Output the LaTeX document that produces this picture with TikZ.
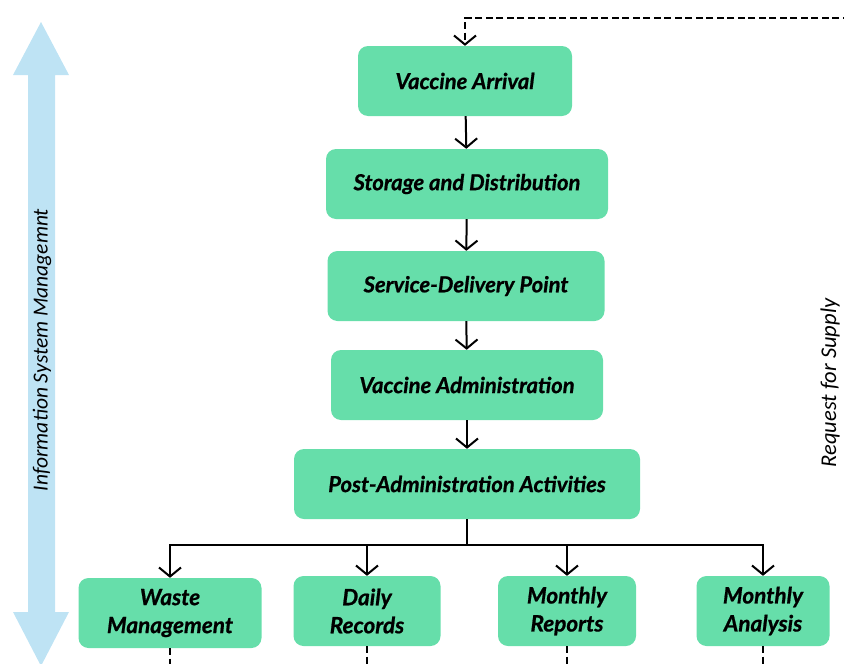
\documentclass[tikz,border=0pt]{standalone}
\usepackage{fontspec}
\setmainfont{Lato}[BoldItalicFeatures={FakeBold=0.8}]
\newfontfamily\ismfont{Carlito}
\usetikzlibrary{positioning,arrows.meta}
\definecolor{stagegreen}{HTML}{66DEAA}
\definecolor{ismblue}{HTML}{BEE3F4}
\tikzset{
stage/.style={rectangle, rounded corners=10pt, fill=stagegreen, minimum height=70pt,
  align=center, font=\bfseries\itshape\fontsize{22}{28}\selectfont},
report/.style={stage, font=\bfseries\itshape\fontsize{22.5}{28}\selectfont},
flow/.style={-{Straight Barb[length=9pt,width=22pt]}, line width=2pt},
feedback/.style={line width=2pt, dash pattern=on 7pt off 3.5pt},
sidetext/.style={rotate=90, font=\ismfont\itshape\fontsize{21.5}{24}\selectfont},
}

\begin{document}
\begin{tikzpicture}[x=1pt,y=-1pt]
    \useasboundingbox (0,0) rectangle (844,664);
    \clip (0,0) rectangle (844,664);

    % information system arrow
    \fill[ismblue] (41,22) -- (69,75) -- (55,75) -- (55,612) -- (69,612) -- (41,666)
        -- (13,612) -- (28,612) -- (28,75) -- (13,75) -- cycle;
    \node[sidetext] (ism) at (42,350) {Information System Managemnt};

    % main chain
    \node[stage, minimum width=214pt] (arr) at (465,81) {Vaccine Arrival};
    \node[stage, minimum width=282pt] (sto) at (467,184) {Storage and Distribution};
    \node[stage, minimum width=277pt] (sdp) at (466,286) {Service-Delivery Point};
    \node[stage, minimum width=272pt] (adm) at (467,385) {Vaccine Administration};
    \node[stage, minimum width=346pt] (post) at (467,484) {Post-Administration Activities};

    % reports
    \node[report, minimum width=183pt] (waste) at (170,613) {Waste\\Management};
    \node[report, minimum width=147pt] (daily) at (367,611) {Daily\\Records};
    \node[report, minimum width=138pt] (mrep) at (567,611) {Monthly\\Reports};
    \node[report, minimum width=133pt] (mana) at (763,611) {Monthly\\Analysis};

    \draw[flow] (arr) -- (sto);
    \draw[flow] (sto) -- (sdp);
    \draw[flow] (sdp) -- (adm);
    \draw[flow] (adm) -- (post);

    \draw[line width=2pt] (post.south) -- ++(0,26) coordinate (fork);
    \foreach \r in {waste,daily,mrep,mana}
        \draw[flow] (fork) -| (\r.north);
    \foreach \r in {waste,daily,mrep,mana}
        \draw[feedback] (\r.south) -- ++(0,30);

    % request for supply
    \coordinate (supply) at (860,18);
    \draw[feedback, -{Straight Barb[length=9pt,width=22pt]}] (supply) -| (arr.north);
    \node[sidetext, font=\ismfont\itshape\fontsize{22.5}{24}\selectfont] (req) at (830,383) {Request for Supply};
\end{tikzpicture}
\end{document}
